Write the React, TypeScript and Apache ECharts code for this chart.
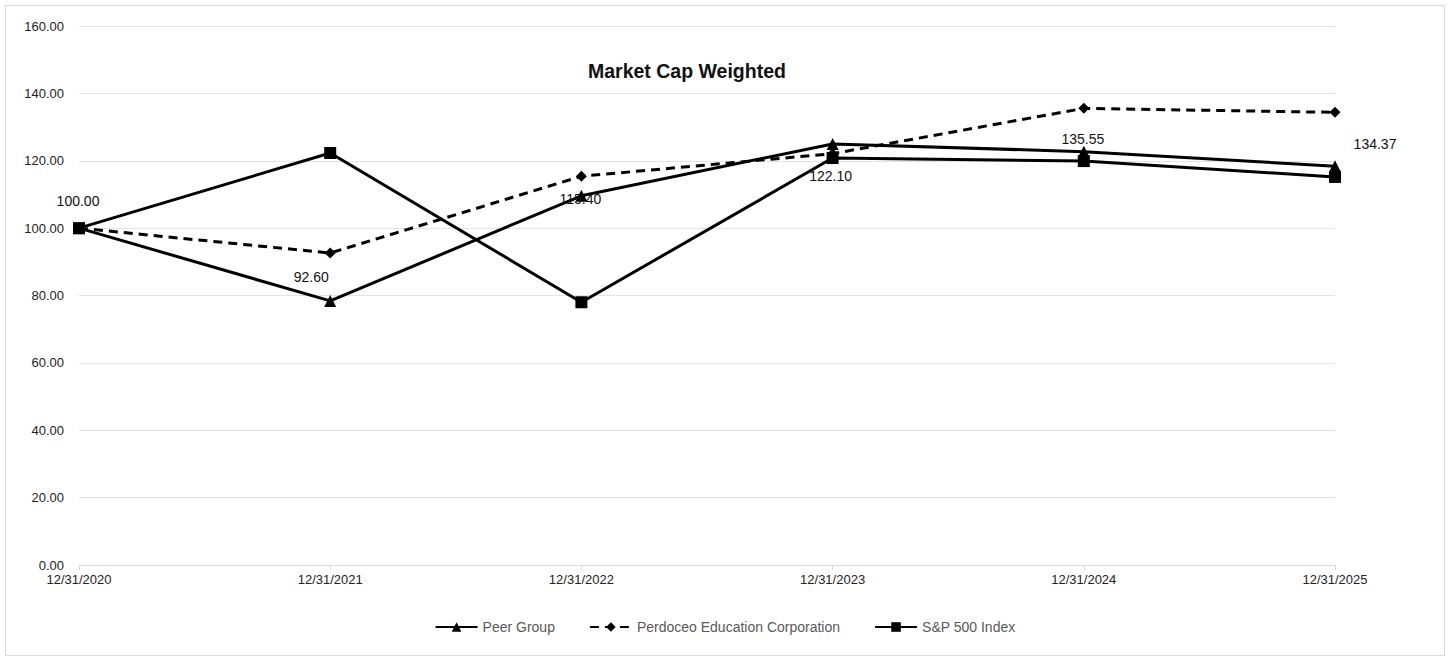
import React, { useEffect, useRef } from "react";
import * as echarts from "echarts";

const categories = ["12/31/2020", "12/31/2021", "12/31/2022", "12/31/2023", "12/31/2024", "12/31/2025"];
const peerGroup = [100, 78.4, 109.6, 125.0, 122.7, 118.4];
const perdoceo = [100, 92.6, 115.4, 122.1, 135.55, 134.37];
const sp500 = [100, 122.3, 78.0, 120.8, 119.9, 115.2];
const labelOffsets: [number, number][] = [[-1, -27], [-19, 24], [-1, 23], [-2, 22], [-1, 31], [40, 32]];

export default function App() {
  const ref = useRef<HTMLDivElement>(null);
  useEffect(() => {
    document.body.style.margin = "0";
    const chart = echarts.init(ref.current!, null, { renderer: "svg" });
    const narrow = "'Liberation Sans Narrow', 'Liberation Sans', Arial, sans-serif";
    chart.setOption({
      animation: false,
      backgroundColor: "#fff",
      title: {
        text: "Market Cap Weighted",
        left: 583,
        top: 56,
        textStyle: { fontFamily: "'Liberation Sans', Arial, sans-serif", fontSize: 19.5, fontWeight: "bold", color: "#111" },
      },
      graphic: [
        { type: "rect", shape: { x: 5.5, y: 5.5, width: 1439, height: 650 }, style: { fill: "none", stroke: "#d9d9d9", lineWidth: 1 }, silent: true },
      ],
      grid: { left: 79, right: 115, top: 26, bottom: 96 },
      legend: {
        bottom: 22,
        left: "center",
        itemGap: 34,
        itemWidth: 42,
        itemHeight: 12,
        textStyle: { fontFamily: narrow, fontSize: 14, color: "#595959" },
        data: ["Peer Group", "Perdoceo Education Corporation", "S&P 500 Index"],
      },
      xAxis: {
        type: "category",
        data: categories,
        boundaryGap: false,
        axisLine: { lineStyle: { color: "#d9d9d9", width: 1 } },
        axisTick: { show: true, length: 5, lineStyle: { color: "#d9d9d9" } },
        axisLabel: { fontFamily: narrow, fontSize: 13, color: "#222", margin: 8 },
      },
      yAxis: {
        type: "value",
        min: 0,
        max: 160,
        interval: 20,
        axisLine: { show: false },
        axisTick: { show: false },
        splitLine: { lineStyle: { color: "#e3e3e3", width: 1 } },
        axisLabel: { fontFamily: narrow, fontSize: 13, color: "#222", margin: 15, formatter: (v: number) => v.toFixed(2) },
      },
      series: [
        {
          name: "Peer Group",
          type: "line",
          data: peerGroup,
          symbol: "triangle",
          symbolSize: 12,
          itemStyle: { color: "#000" },
          lineStyle: { color: "#000", width: 3 },
          z: 3,
        },
        {
          name: "Perdoceo Education Corporation",
          type: "line",
          data: perdoceo.map((v, i) => ({
            value: v,
            label: { show: true, position: "inside", offset: labelOffsets[i] },
          })),
          symbol: "diamond",
          symbolSize: 11,
          itemStyle: { color: "#000" },
          lineStyle: { color: "#000", width: 3, type: [9, 6] },
          label: {
            show: true,
            fontFamily: "'Liberation Sans', Arial, sans-serif",
            fontSize: 14,
            color: "#111",
            formatter: (p: any) => Number(p.value).toFixed(2),
          },
          z: 4,
        },
        {
          name: "S&P 500 Index",
          type: "line",
          data: sp500,
          symbol: "rect",
          symbolSize: 12,
          itemStyle: { color: "#000" },
          lineStyle: { color: "#000", width: 3 },
          z: 2,
        },
      ],
    });
    return () => chart.dispose();
  }, []);
  return <div ref={ref} style={{ width: 1450, height: 661 }} />;
}
